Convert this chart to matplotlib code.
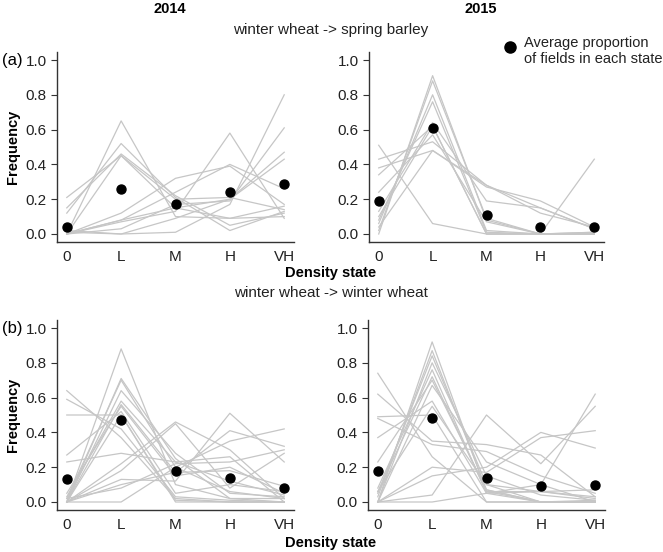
import numpy as np
import matplotlib
matplotlib.use("Agg")
import matplotlib.pyplot as plt

plt.rcParams['font.family'] = ['Liberation Sans', 'DejaVu Sans']

STATES = ["0", "L", "M", "H", "VH"]

# --- field trajectories (proportion of field in each density state) ---
ww_sb_2014 = [
    [0.00, 0.65, 0.10, 0.09, 0.16],
    [0.12, 0.52, 0.21, 0.02, 0.13],
    [0.21, 0.45, 0.15, 0.09, 0.10],
    [0.15, 0.46, 0.22, 0.05, 0.12],
    [0.00, 0.45, 0.20, 0.21, 0.14],
    [0.00, 0.12, 0.32, 0.39, 0.17],
    [0.00, 0.08, 0.24, 0.40, 0.26],
    [0.02, 0.00, 0.01, 0.17, 0.80],
    [0.00, 0.03, 0.17, 0.19, 0.61],
    [0.00, 0.07, 0.13, 0.58, 0.09],
    [0.01, 0.00, 0.09, 0.20, 0.47],
    [0.00, 0.08, 0.15, 0.20, 0.43],
]
ww_sb_2015 = [
    [0.00, 0.91, 0.08, 0.00, 0.01],
    [0.02, 0.88, 0.09, 0.00, 0.01],
    [0.06, 0.80, 0.02, 0.00, 0.00],
    [0.08, 0.76, 0.01, 0.00, 0.00],
    [0.13, 0.64, 0.19, 0.15, 0.03],
    [0.43, 0.53, 0.28, 0.12, 0.04],
    [0.38, 0.48, 0.27, 0.19, 0.04],
    [0.34, 0.62, 0.00, 0.00, 0.00],
    [0.51, 0.06, 0.00, 0.00, 0.43],
    [0.24, 0.57, 0.07, 0.00, 0.00],
    [0.10, 0.62, 0.00, 0.00, 0.00],
    [0.04, 0.48, 0.28, 0.15, 0.03],
]
ww_ww_2014 = [
    [0.00, 0.88, 0.10, 0.02, 0.00],
    [0.00, 0.71, 0.25, 0.02, 0.02],
    [0.02, 0.70, 0.20, 0.06, 0.02],
    [0.00, 0.64, 0.28, 0.05, 0.03],
    [0.03, 0.58, 0.23, 0.12, 0.04],
    [0.00, 0.56, 0.17, 0.18, 0.09],
    [0.05, 0.55, 0.15, 0.20, 0.05],
    [0.27, 0.52, 0.05, 0.10, 0.06],
    [0.50, 0.50, 0.00, 0.00, 0.00],
    [0.64, 0.37, 0.02, 0.00, 0.00],
    [0.59, 0.42, 0.03, 0.01, 0.00],
    [0.23, 0.28, 0.23, 0.26, 0.00],
    [0.00, 0.22, 0.46, 0.30, 0.02],
    [0.00, 0.18, 0.45, 0.08, 0.28],
    [0.00, 0.13, 0.12, 0.51, 0.23],
    [0.00, 0.10, 0.17, 0.41, 0.32],
    [0.00, 0.00, 0.20, 0.35, 0.42],
    [0.02, 0.08, 0.22, 0.23, 0.30],
    [0.00, 0.50, 0.01, 0.00, 0.00],
]
ww_ww_2015 = [
    [0.00, 0.92, 0.06, 0.00, 0.00],
    [0.03, 0.87, 0.07, 0.00, 0.00],
    [0.05, 0.84, 0.10, 0.00, 0.01],
    [0.00, 0.80, 0.15, 0.04, 0.01],
    [0.08, 0.76, 0.05, 0.06, 0.02],
    [0.06, 0.72, 0.06, 0.06, 0.07],
    [0.23, 0.70, 0.07, 0.00, 0.00],
    [0.00, 0.67, 0.23, 0.10, 0.00],
    [0.37, 0.58, 0.05, 0.00, 0.00],
    [0.49, 0.50, 0.00, 0.00, 0.00],
    [0.48, 0.33, 0.29, 0.15, 0.05],
    [0.74, 0.26, 0.00, 0.00, 0.00],
    [0.62, 0.35, 0.33, 0.27, 0.03],
    [0.00, 0.20, 0.17, 0.37, 0.41],
    [0.00, 0.15, 0.20, 0.40, 0.31],
    [0.00, 0.04, 0.50, 0.22, 0.55],
    [0.00, 0.00, 0.05, 0.10, 0.62],
    [0.06, 0.55, 0.10, 0.06, 0.03],
]

# --- average proportion of fields in each state ---
mean_ww_sb_2014 = [0.04, 0.26, 0.17, 0.24, 0.285]
mean_ww_sb_2015 = [0.19, 0.61, 0.11, 0.04, 0.04]
mean_ww_ww_2014 = [0.13, 0.47, 0.18, 0.14, 0.08]
mean_ww_ww_2015 = [0.18, 0.48, 0.14, 0.09, 0.10]

W, H = 663, 552


def px_axes(left, top, width, height):
    return fig.add_axes([left / W, 1 - (top + height) / H, width / W, height / H])


def draw_panel(ax, lines, means):
    x = np.arange(len(STATES))
    for row in lines:
        ax.plot(x, row, color='#c6c6c6', linewidth=0.9, zorder=1)
    ax.scatter(x, means, s=42, color='black', zorder=3)
    ax.set_xlim(-0.18, 4.18)
    ax.set_ylim(-0.046, 1.046)
    ax.set_xticks(x)
    ax.set_xticklabels(STATES)
    ax.set_yticks(np.arange(0, 1.01, 0.2))
    ax.set_yticklabels([f"{v:.1f}" for v in np.arange(0, 1.01, 0.2)])
    for side in ['top', 'right']:
        ax.spines[side].set_visible(False)
    for side in ['left', 'bottom']:
        ax.spines[side].set_color('#333333')
        ax.spines[side].set_linewidth(1.0)
    ax.tick_params(axis='x', length=0, pad=6, labelsize=11, colors='#222222')
    ax.tick_params(axis='y', length=4, width=0.8, direction='out', labelsize=11,
                   colors='#333333', labelcolor='#222222')


fig = plt.figure(figsize=(6.63, 5.52), dpi=100)

ax1 = px_axes(57, 52, 237, 190)
ax2 = px_axes(369, 52, 235, 190)
ax3 = px_axes(57, 320, 237, 190)
ax4 = px_axes(368, 320, 237, 190)

draw_panel(ax1, ww_sb_2014, mean_ww_sb_2014)
draw_panel(ax2, ww_sb_2015, mean_ww_sb_2015)
draw_panel(ax3, ww_ww_2014, mean_ww_ww_2014)
draw_panel(ax4, ww_ww_2015, mean_ww_ww_2015)

for ax in (ax1, ax3):
    ax.set_ylabel('Frequency', fontsize=10.5, fontweight='bold', labelpad=4)

def ftext(x, y, s, **kw):
    fig.text(x / W, 1 - y / H, s, **kw)

ftext(170, 9, '2014', ha='center', va='center', fontsize=10.5, fontweight='bold')
ftext(481, 9, '2015', ha='center', va='center', fontsize=10.5, fontweight='bold')
ftext(331, 30, 'winter wheat -> spring barley', ha='center', va='center', fontsize=11, color='#222222')
ftext(331, 273, 'Density state', ha='center', va='center', fontsize=10.5, fontweight='bold')
ftext(331, 293, 'winter wheat -> winter wheat', ha='center', va='center', fontsize=11, color='#222222')
ftext(331, 543, 'Density state', ha='center', va='center', fontsize=10.5, fontweight='bold')
ftext(12, 60, '(a)', ha='center', va='center', fontsize=12)
ftext(12, 328, '(b)', ha='center', va='center', fontsize=12)

# legend for the average dots
fig.lines.append(plt.Line2D([510 / W], [1 - 47 / H], marker='o', markersize=8,
                            color='black', transform=fig.transFigure))
ftext(524, 51, 'Average proportion\nof fields in each state', ha='left', va='center',
      fontsize=10.5, linespacing=1.1, color='#222222')

fig.savefig('out.png', dpi=100)
